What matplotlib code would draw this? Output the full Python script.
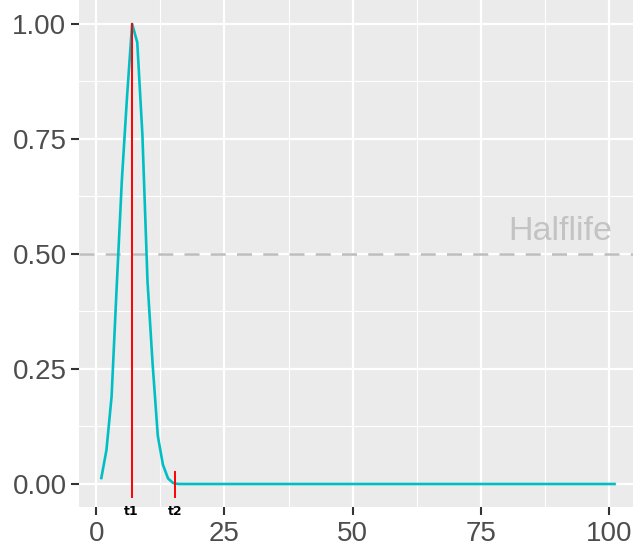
import matplotlib
matplotlib.use('Agg')
import matplotlib.pyplot as plt
from matplotlib.ticker import MultipleLocator

# curve values (x = 1..16, then flat zero up to 101)
peak_x = list(range(1, 17))
peak_y = [0.013, 0.074, 0.19, 0.43, 0.66, 0.84, 1.0, 0.96,
          0.76, 0.44, 0.26, 0.105, 0.042, 0.012, 0.002, 0.0]
tail_x = list(range(17, 102))
tail_y = [0.0] * len(tail_x)
x = peak_x + tail_x
y = peak_y + tail_y

t1 = 6.9
t2 = 15.4
t1_span = (-0.028, 1.0)
t2_span = (-0.028, 0.027)
halflife = 0.5

plt.rcParams['font.family'] = ['Liberation Sans', 'DejaVu Sans']

fig = plt.figure(figsize=(6.33, 5.54), dpi=100)
ax = fig.add_axes([79 / 633, 1 - 507 / 554, 1 - 79 / 633, 507 / 554])
ax.set_facecolor('#ebebeb')
for s in ax.spines.values():
    s.set_visible(False)

ax.set_xlim(-3.35, 104.6)
ax.set_ylim(-0.05, 1.052)
ax.xaxis.set_major_locator(MultipleLocator(25))
ax.xaxis.set_minor_locator(MultipleLocator(12.5))
ax.yaxis.set_major_locator(MultipleLocator(0.25))
ax.yaxis.set_minor_locator(MultipleLocator(0.125))
ax.yaxis.set_major_formatter(plt.FormatStrFormatter('%.2f'))
ax.grid(which='major', color='white', linewidth=1.6)
ax.grid(which='minor', color='white', linewidth=0.8)
ax.set_axisbelow(True)
ax.tick_params(which='major', length=6, width=1.5, color='#333333',
               labelsize=20, labelcolor='#4d4d4d', pad=3)
ax.tick_params(which='minor', length=0)
ax.tick_params(axis='x', pad=4)

ax.axhline(halflife, color='#bdbdbd', linewidth=1.8, linestyle=(0, (6, 4.5)))
ax.text(560.5 / 5.13 - 96.7 / 5.13, 0.548, 'Halflife', color='#c3c3c3',
        fontsize=24.5, ha='center', va='center')

ax.plot(x, y, color='#00BFC4', linewidth=1.9)
ax.plot([t1, t1], t1_span, color='red', linewidth=1.4)
ax.plot([t2, t2], t2_span, color='red', linewidth=1.4)

trans = ax.get_xaxis_transform()
for xv, lab in [(t1, 't1'), (t2, 't2')]:
    ax.text(xv, 0.004, lab, transform=trans, ha='center', va='top',
            fontsize=9, fontweight='bold', family='DejaVu Sans',
            color='black', clip_on=False)

fig.savefig('out.png', dpi=100)
